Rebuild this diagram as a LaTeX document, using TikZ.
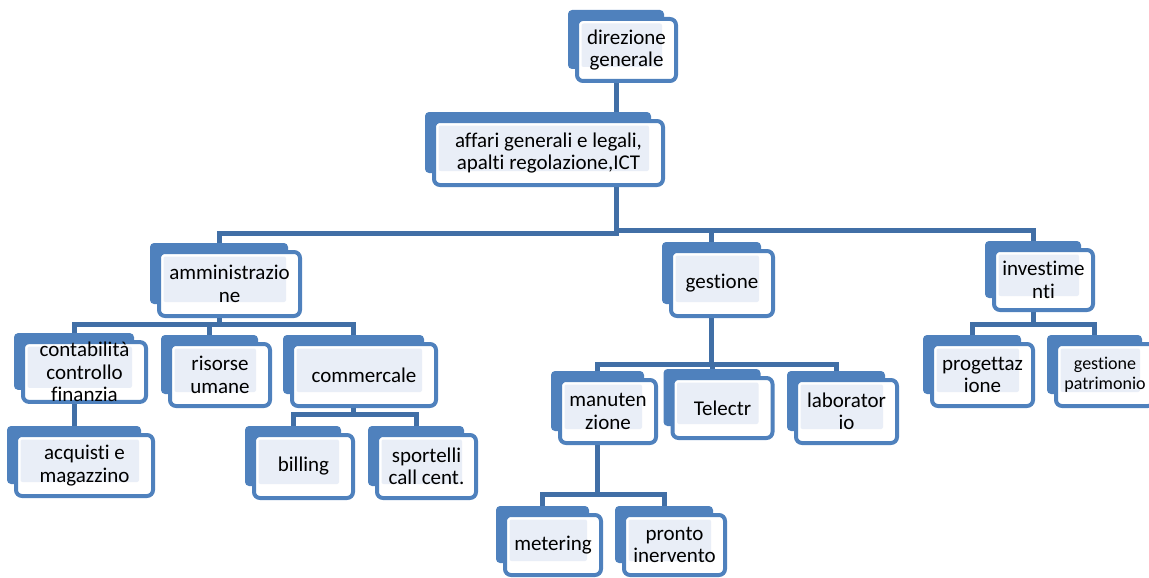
\documentclass[tikz,border=0pt]{standalone}
\usepackage{fontspec}
\setmainfont{Carlito}[Ligatures=NoCommon]
\usetikzlibrary{backgrounds}

\definecolor{boxblue}{HTML}{4F81BD}
\definecolor{linkblue}{HTML}{416FA6}
\definecolor{paleblue}{HTML}{E9EEF7}

\tikzset{
  orgbox/.style={draw=boxblue, line width=4pt, fill=white, rounded corners=6pt,
    inner sep=0pt, align=center, font=\fontsize{21}{22.5}\selectfont,
    path picture={\fill[paleblue, rounded corners=2pt]
      ([shift={(4.5pt,-4.5pt)}]path picture bounding box.north west) rectangle
      ([shift={(-14pt,14pt)}]path picture bounding box.south east);}},
  wh/.style 2 args={minimum width=#1pt, minimum height=#2pt},
  orgtab/.style={fill=boxblue, rounded corners=4pt},
  link/.style={draw=linkblue, line width=5pt},
}

\begin{document}
\begin{tikzpicture}[x=1pt, y=-1pt]
  \useasboundingbox (0,0) rectangle (1149,578);

  \node[orgbox, wh={99}{62}] (dir) at (626.5,50) {direzione\\generale};
  \node[orgbox, wh={229}{64}] (aff) at (548.5,153) {affari generali e legali,\\apalti regolazione,ICT};

  \node[orgbox, wh={141}{64}] (amm) at (229.5,284) {amministrazio\\ne};
  \node[orgbox, wh={102}{65}] (ges) at (722,283.5) {gestione};
  \node[orgbox, wh={99}{60}] (inv) at (1043.5,280) {investime\\nti};

  \node[orgbox, wh={123}{58}] (cont) at (84.5,372) {contabilità\\controllo\\finanzia};
  \node[orgbox, wh={100}{62}] (ris) at (220,375) {risorse\\umane};
  \node[orgbox, wh={144}{62}] (com) at (364,375) {commercale};
  \node[orgbox, wh={137}{61}] (acq) at (84.5,465.5) {acquisti e\\magazzino};
  \node[orgbox, wh={99}{63}] (bil) at (303.5,466.5) {billing};
  \node[orgbox, wh={99}{63}] (spo) at (426.5,466.5) {sportelli\\call cent.};

  \node[orgbox, wh={96}{63}] (man) at (608,411.5) {manuten\\zione};
  \node[orgbox, wh={100}{60}] (tel) at (722.5,408) {Telectr};
  \node[orgbox, wh={101}{63}] (lab) at (846.5,411.5) {laborator\\io};
  \node[orgbox, wh={96}{60}] (met) at (553,545) {metering};
  \node[orgbox, wh={101}{60}] (pro) at (674.5,545) {pronto\\inervento};

  \node[orgbox, wh={101}{62}] (prg) at (982.5,375) {progettaz\\ione};
  \node[orgbox, wh={98}{62}, font=\fontsize{18}{20}\selectfont] (pat) at (1105,375) {gestione\\patrimonio};

  \begin{scope}[on background layer]
    \draw[link] ([xshift=-10.5pt]dir.south) -- ([xshift=67.5pt]aff.north);
    \draw[link] ([xshift=67.5pt]aff.south) -- ++(0,46) -| ([xshift=-10.5pt]amm.north);
    \foreach \c in {ges,inv}
      \draw[link] ([xshift=67.5pt]aff.south) -- ++(0,43) -| ([xshift=-10.5pt]\c.north);
    \foreach \c in {cont,ris,com}
      \draw[link] ([xshift=-10.5pt]amm.south) -- ++(0,6.5) -| ([xshift=-10.5pt]\c.north);
    \draw[link] ([xshift=-10.5pt]cont.south) -- ([xshift=-10.5pt]acq.north);
    \foreach \c in {bil,spo}
      \draw[link] ([xshift=-10.5pt]com.south) -- ++(0,6.5) -| ([xshift=-10.5pt]\c.north);
    \foreach \c in {man,tel,lab}
      \draw[link] ([xshift=-10.5pt]ges.south) -- ++(0,46.5) -| ([xshift=-10.5pt]\c.north);
    \foreach \c in {met,pro}
      \draw[link] ([xshift=-10.5pt]man.south) -- ++(0,49.5) -| ([xshift=-10.5pt]\c.north);
    \foreach \c in {prg,pat}
      \draw[link] ([xshift=-10.5pt]inv.south) -- ++(0,12.5) -| ([xshift=-10.5pt]\c.north);

    % darker tab behind every box
    \foreach \n in {dir,aff,amm,ges,inv,cont,ris,com,acq,bil,spo,man,tel,lab,met,pro,prg,pat}
      \fill[orgtab] ([shift={(-7pt,7pt)}]\n.north west) rectangle ([shift={(-14pt,14pt)}]\n.south east);
  \end{scope}
\end{tikzpicture}
\end{document}
